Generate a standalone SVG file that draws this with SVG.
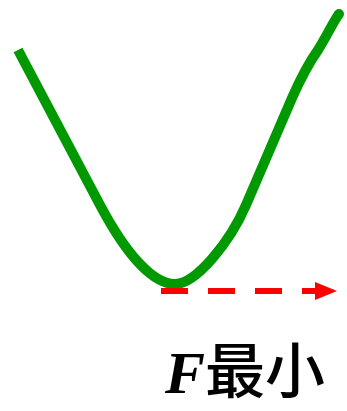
<svg xmlns="http://www.w3.org/2000/svg" width="347" height="411" viewBox="0 0 347 411">
<style>
.curve{fill:none;stroke:#009900;stroke-width:10;stroke-linejoin:round}
.dash{fill:none;stroke:#ff0000;stroke-width:6;stroke-dasharray:27 20}
.lbl{font-size:60px;fill:#000}
</style>
<defs>
<marker id="ah" markerUnits="userSpaceOnUse" markerWidth="24" markerHeight="20" refX="22" refY="9" orient="auto">
<path d="M0,0 L22,9 L0,18 Z" fill="#ff0000"/>
</marker>
</defs>
<rect width="347" height="411" fill="#ffffff"/>
<g id="curve">
<path class="curve" d="M18,50 L100,205 C125,252 152,284 175,284 C196,284 230,242 246,205 L292,98 C300,80 308,64 318,50 C327,36 333,22 339,14" stroke-linecap="butt"/>
<circle cx="339" cy="14" r="5" fill="#009900"/>
</g>
<g id="connectors">
<path class="dash" d="M161,291 L337,291" marker-end="url(#ah)"/>
</g>
<g id="label">
<text class="lbl" x="165" y="393"><tspan font-family="Liberation Serif, serif" font-weight="bold" font-style="italic">F</tspan><tspan font-family="Noto Sans CJK SC, sans-serif" font-weight="500">最小</tspan></text>
</g>
</svg>
